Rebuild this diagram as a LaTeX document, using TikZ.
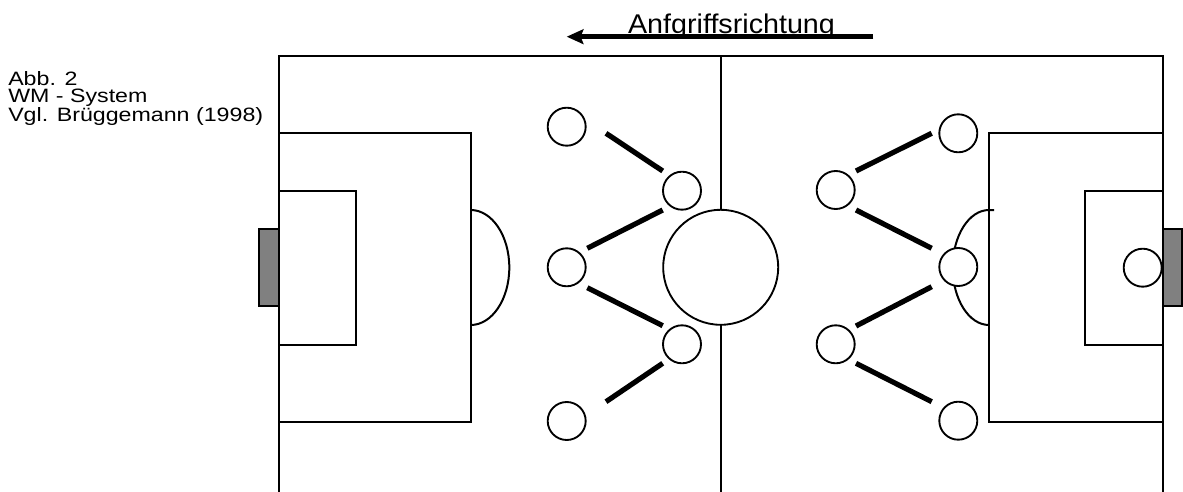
\documentclass[tikz,border=0pt]{standalone}
\usepackage{fontspec}
\usetikzlibrary{calc,arrows.meta}
\newfontfamily\labfont[FakeStretch=1.2]{Liberation Sans}
\newfontfamily\ttlfont[FakeStretch=1.06]{Liberation Sans}
\begin{document}
\begin{tikzpicture}[x=0.75pt,y=-0.75pt,
  fieldline/.style={line width=1.5pt},
  player/.style={circle,draw,fill=white,line width=1.4pt,minimum size=38*0.75pt,inner sep=0pt},
  link/.style={line width=3.9pt,line cap=butt},
  goalbox/.style={draw,line width=1.5pt,fill=black!50}]
\path[use as bounding box] (0,0) rectangle (1183,492);
% field outline
\coordinate (tl) at (279,56.5);
\coordinate (tr) at (1162.5,56.5);
\coordinate (bl) at (279,492);
\coordinate (br) at (1162.5,492);
\coordinate (mt) at (720.5,56.5);
\coordinate (mb) at (720.5,492);
\draw[fieldline] (bl) -- (tl) -- (tr) -- (br);
\draw[fieldline] (mt) -- (mb);
% left penalty area
\draw[fieldline] (279,133.3) -- (470.7,133.3) -- (470.7,421.7) -- (279,421.7);
\draw[fieldline] (279,191) -- (356,191) -- (356,344.5) -- (279,344.5);
\draw[fieldline] (470.7,210) arc[start angle=-90,end angle=90,x radius=38.6,y radius=57.5];
\draw[goalbox] (259.3,229.3) rectangle (279,306);
% right penalty area
\draw[fieldline] (1162.5,133.3) -- (989,133.3) -- (989,421.7) -- (1162.5,421.7);
\draw[fieldline] (1162.5,191) -- (1085.3,191) -- (1085.3,344.5) -- (1162.5,344.5);
\draw[fieldline] (994,210) -- (989,210) arc[start angle=-90,end angle=-270,x radius=36.3,y radius=57.5];
\draw[goalbox] (1162.5,229.3) rectangle (1181.7,306);
% centre circle
\node[circle,draw,fill=white,line width=1.4pt,minimum size=115*0.75pt,inner sep=0pt] (cc) at (720.7,267.3) {};
% left team
\node[player] (p1) at (566.7,126.7) {};
\node[player] (p2) at (682,190.7) {};
\node[player] (p3) at (566.7,267.3) {};
\node[player] (p4) at (682,344.3) {};
\node[player] (p5) at (566.7,421) {};
\draw[link] ($(p1)+(39.3,6.6)$) -- ($(p2)+(-19.3,-19.7)$);
\draw[link] ($(p2)+(-19.3,19.3)$) -- ($(p3)+(20.6,-19)$);
\draw[link] ($(p3)+(20.6,20.4)$) -- ($(p4)+(-19.3,-18.6)$);
\draw[link] ($(p4)+(-19.3,19)$) -- ($(p5)+(39.3,-19.3)$);
% right team
\node[player] (q1) at (958.3,133.3) {};
\node[player] (q2) at (835.7,190) {};
\node[player] (q3) at (958.3,267) {};
\node[player] (q4) at (835.7,344.3) {};
\node[player] (q5) at (958.3,420.7) {};
\node[player] (gk) at (1142.7,267.7) {};
\draw[link] ($(q2)+(20.3,-19)$) -- ($(q1)+(-26.6,0)$);
\draw[link] ($(q2)+(20.3,20)$) -- ($(q3)+(-26.6,-18.7)$);
\draw[link] ($(q3)+(-26.6,19.7)$) -- ($(q4)+(20.3,-18.3)$);
\draw[link] ($(q4)+(20.3,19)$) -- ($(q5)+(-26.6,-19)$);
% labels
\node[anchor=base west,align=left,inner sep=0pt,font=\labfont\fontsize{14.5}{13}\selectfont] (cap) at (8,121.7)
  {Abb. 2\\WM - System\\Vgl. Brüggemann (1998)};
\node[anchor=base,inner sep=0pt,font=\ttlfont\fontsize{20.3}{22}\selectfont] (dir) at (731.5,34) {Anfgriffsrichtung};
\coordinate (arrS) at (873.3,36.7);
\coordinate (arrE) at (566.7,36.7);
\draw[line width=3.4pt,-{Stealth[length=12.5pt,width=11pt,inset=2pt]}] (arrS) -- (arrE);
\end{tikzpicture}
\end{document}
